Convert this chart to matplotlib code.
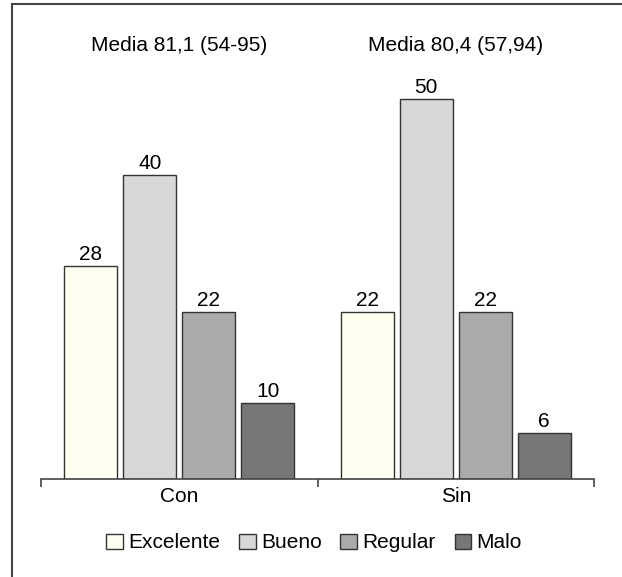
import matplotlib
matplotlib.use("Agg")
import matplotlib.pyplot as plt
from matplotlib.patches import Rectangle, Patch
import numpy as np

plt.rcParams['font.family'] = ['Liberation Sans', 'DejaVu Sans']

groups = ["Con", "Sin"]
series = ["Excelente", "Bueno", "Regular", "Malo"]
values = {
    "Excelente": [28, 22],
    "Bueno": [40, 50],
    "Regular": [22, 22],
    "Malo": [10, 6],
}
titles = ["Media 81,1 (54-95)", "Media 80,4 (57,94)"]

colors = ["#FFFFF2", "#D8D8D8", "#AAAAAA", "#777777"]
edge = "#333333"
FS = 15

W, H = 622, 577
fig = plt.figure(figsize=(W / 100, H / 100), dpi=100)

# frame around the figure (open at right/bottom edges of the canvas)
fig.patches.append(Rectangle((12 / W, -0.1), 1.2, (1 - 4 / H) + 0.1,
                             transform=fig.transFigure, fill=False,
                             edgecolor="#444444", linewidth=1.5))

ax = fig.add_axes([41 / W, 98 / H, (594 - 41) / W, (479 - 30) / H])
ax.patch.set_alpha(0)

bar_w = 0.192
step = 0.213
x = np.arange(len(groups))
for i, (name, col) in enumerate(zip(series, colors)):
    offs = (i - 1.5) * step
    bars = ax.bar(x + offs, values[name], width=bar_w, color=col,
                  edgecolor=edge, linewidth=1.0)
    for b, v in zip(bars, values[name]):
        ax.annotate(str(v), (b.get_x() + b.get_width() / 2, v),
                    xytext=(0, 4.5), textcoords="offset points",
                    ha="center", va="baseline", fontsize=FS)

for gx, t in zip(x, titles):
    ax.text(gx, 56.3, t, ha="center", va="baseline", fontsize=FS)

ax.set_xlim(-0.5, 1.5)
ax.set_ylim(0, 449 / 7.6)
for s in ["left", "right", "top"]:
    ax.spines[s].set_visible(False)
ax.spines["bottom"].set_color("#444444")
ax.spines["bottom"].set_linewidth(1.2)
ax.set_yticks([])
ax.set_xticks(x)
ax.set_xticklabels(groups, fontsize=FS)
ax.tick_params(axis="x", which="major", length=0, pad=6)
ax.set_xticks([-0.5, 0.5, 1.5], minor=True)
ax.tick_params(axis="x", which="minor", length=6, width=1.2,
               color="#444444", direction="out")

handles = [Patch(facecolor=c, edgecolor=edge, linewidth=1.0) for c in colors]
fig.legend(handles, series, loc="center", bbox_to_anchor=(314 / W, 1 - 543 / H),
           ncol=4, frameon=False, fontsize=FS, handlelength=0.8,
           handleheight=0.75, handletextpad=0.26, columnspacing=0.9)

fig.savefig("out.png", dpi=100)
